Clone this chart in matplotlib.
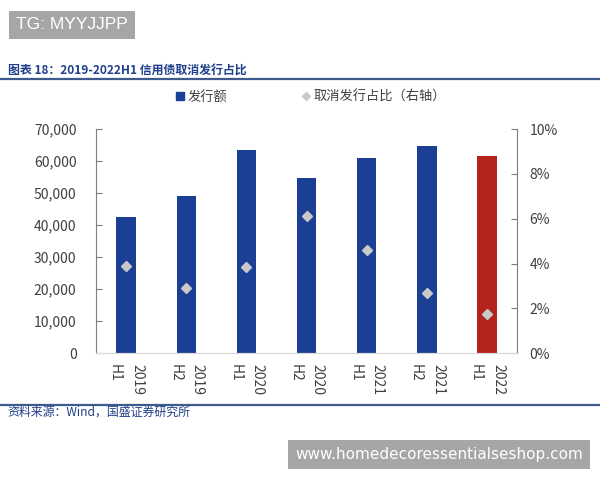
import matplotlib as mpl
mpl.use('Agg')
import matplotlib.pyplot as plt
import matplotlib.transforms as mtrans
from matplotlib.lines import Line2D
from matplotlib.ticker import FuncFormatter

plt.rcParams['font.family'] = ['Noto Sans CJK SC', 'DejaVu Sans']

periods = ['2019\nH1', '2019\nH2', '2020\nH1', '2020\nH2', '2021\nH1', '2021\nH2', '2022\nH1']
issue_amt = [42600, 49200, 63400, 54800, 61000, 64600, 61700]
cancel_ratio = [3.89, 2.90, 3.86, 6.12, 4.61, 2.69, 1.77]
bar_colors = ['#1b3f94'] * 6 + ['#b3241c']

dpi = 100
fig = plt.figure(figsize=(600 / dpi, 480 / dpi), dpi=dpi)
ax = fig.add_axes([0.16, 0.264, 0.702, 0.467])
ax2 = ax.twinx()

xs = range(len(periods))
ax.bar(xs, issue_amt, width=0.32, color=bar_colors, zorder=2)
ax2.plot(xs, cancel_ratio, linestyle='none', marker='D', markersize=5,
         color='#c9c9c9', zorder=3)

ax.set_xlim(-0.5, 6.5)
ax.set_ylim(0, 70000)
ax.set_yticks(range(0, 70001, 10000))
ax.yaxis.set_major_formatter(FuncFormatter(lambda v, p: f'{int(v):,}'))
ax2.set_ylim(0, 10)
ax2.set_yticks(range(0, 11, 2))
ax2.yaxis.set_major_formatter(FuncFormatter(lambda v, p: f'{int(v)}%'))

ax.set_xticks(list(xs))
ax.set_xticklabels(periods, rotation=270, fontsize=10, color='#404040',
                   linespacing=1.75)
shift = mtrans.ScaledTranslation(-3 / 72, 0, fig.dpi_scale_trans)
for lab in ax.get_xticklabels():
    lab.set_multialignment('left')
    lab.set_transform(lab.get_transform() + shift)
ax.tick_params(axis='x', length=0, pad=8)

for a in (ax, ax2):
    a.spines['top'].set_visible(False)
    a.spines['bottom'].set_color('#d9d9d9')
ax.spines['right'].set_visible(False)
ax2.spines['left'].set_visible(False)
ax.spines['left'].set_color('#7f7f7f')
ax2.spines['right'].set_color('#7f7f7f')
ax.tick_params(axis='y', direction='in', length=4, color='#7f7f7f',
               labelsize=10, labelcolor='#404040', pad=14)
ax2.tick_params(axis='y', direction='in', length=4, color='#7f7f7f',
                labelsize=10, labelcolor='#404040', pad=9)

# legend
handles = [Line2D([], [], linestyle='none', marker='s', markersize=6, color='#1b3f94'),
           Line2D([], [], linestyle='none', marker='D', markersize=4, color='#c9c9c9')]
fig.legend(handles, ['发行额', '取消发行占比（右轴）'], loc='center left',
           bbox_to_anchor=(0.289, 0.798), ncol=2, frameon=False, fontsize=9.5,
           handletextpad=0.05, columnspacing=5.5, handlelength=1.0,
           borderpad=0, borderaxespad=0, labelcolor='#404040')

# title and source
fig.text(0.013, 0.853, '图表 18：2019-2022H1 信用债取消发行占比', fontsize=8.6,
         style='italic', weight='bold', color='#1f3f8a', va='center')
fig.add_artist(Line2D([0, 1], [0.835, 0.835], color='#3e5a8c', lw=1.6))
fig.add_artist(Line2D([0, 1], [0.157, 0.157], color='#3e5a8c', lw=1.6))
fig.text(0.013, 0.142, '资料来源：Wind，国盛证券研究所', fontsize=8.6,
         style='italic', color='#1f3f8a', va='center')

# watermark boxes
fig.text(0.027, 0.948, 'TG: MYYJJPP', fontsize=12.5, color='white', va='center',
         family='Liberation Sans',
         bbox=dict(boxstyle='square,pad=0.4', fc='#a6a6a6', ec='none'))
fig.text(0.492, 0.0525, 'www.homedecoressentialseshop.com', fontsize=11,
         color='white', va='center', family='DejaVu Sans',
         bbox=dict(boxstyle='square,pad=0.45', fc='#a6a6a6', ec='none'))

plt.savefig('out.png', dpi=dpi)
